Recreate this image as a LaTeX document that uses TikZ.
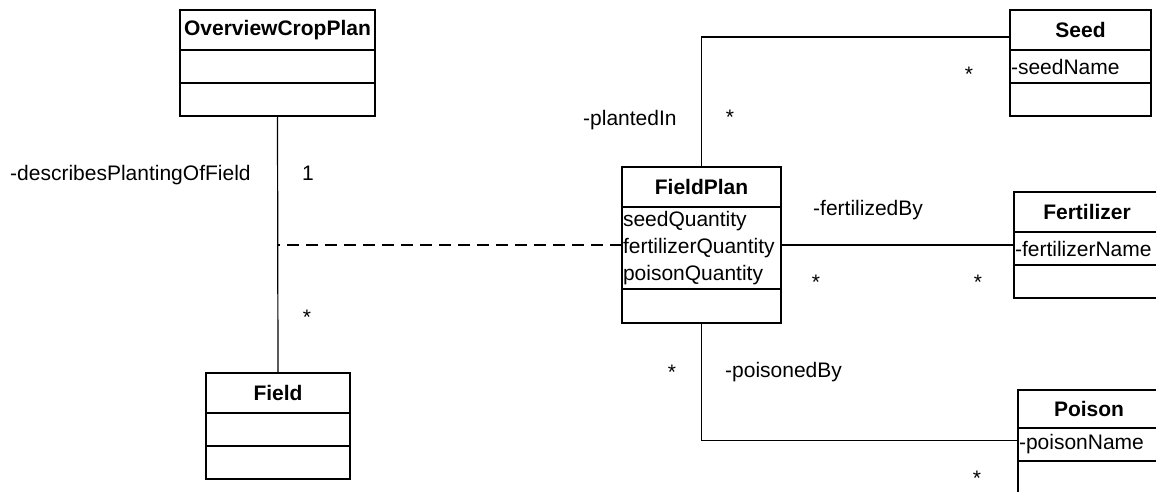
\documentclass[tikz,border=0pt]{standalone}
\usepackage{fontspec}
\setmainfont{Liberation Sans}
\begin{document}
\begin{tikzpicture}[x=1pt,y=-1pt,
    font=\fontsize{21}{27}\selectfont,
    classhead/.style={draw,line width=2pt,font=\fontsize{21}{27}\selectfont\bfseries,
        minimum height=40pt,inner sep=0pt,outer sep=0pt,anchor=north west},
    classpart/.style={draw,line width=2pt,minimum height=33pt,inner xsep=1pt,
        inner ysep=0pt,outer sep=0pt,anchor=north,align=left},
    assoc/.style={line width=1.2pt},
    lbl/.style={inner sep=0pt}]
    \useasboundingbox (0,0) rectangle (1156,491);
    \clip (0,0) rectangle (1156,491);
    % classes
    \node[classhead,minimum width=195pt] (ocp) at (180,10) {OverviewCropPlan};
    \node[classpart,text width=193pt] (ocpattr) at (ocp.south) {};
    \node[classpart,text width=193pt] (ocpops) at (ocpattr.south) {};
    \node[classhead,minimum width=144pt] (field) at (206,373) {Field};
    \node[classpart,text width=142pt] (fieldattr) at (field.south) {};
    \node[classpart,text width=142pt] (fieldops) at (fieldattr.south) {};
    \node[classhead,minimum width=159pt] (fp) at (622,167) {FieldPlan};
    \node[classpart,text width=157pt,minimum height=82pt] (fpattr) at (fp.south)
        {seedQuantity\\fertilizerQuantity\\poisonQuantity};
    \node[classpart,text width=157pt,minimum height=34pt] (fpops) at (fpattr.south) {};
    \node[classhead,minimum width=141pt] (seed) at (1010,10) {Seed};
    \node[classpart,text width=139pt] (seedattr) at (seed.south) {-seedName};
    \node[classpart,text width=139pt] (seedops) at (seedattr.south) {};
    \node[classhead,minimum width=146pt] (fert) at (1014,192) {Fertilizer};
    \node[classpart,text width=144pt] (fertattr) at (fert.south) {-fertilizerName};
    \node[classpart,text width=144pt] (fertops) at (fertattr.south) {};
    \node[classhead,minimum width=142pt,minimum height=38pt] (poison) at (1018,390) {Poison};
    \node[classpart,text width=140pt] (poisonattr) at (poison.south) {-poisonName};
    \node[classpart,text width=140pt] (poisonops) at (poisonattr.south) {};
    % associations
    \coordinate (fpmid) at ([yshift=3pt]fpattr.west);
    \coordinate (seedin) at ([yshift=-7pt]seed.west);
    \coordinate (fertin) at ([yshift=3.5pt]fertattr.west);
    \coordinate (poisonin) at ([yshift=4pt]poisonattr.west);
    \draw[assoc] (ocpops.south) -- (field.north);
    \draw[assoc,dash pattern=on 12pt off 7pt] (fpmid) -- (fpmid -| field.north);
    \draw[assoc] (fp.north) |- (seedin);
    \draw[assoc] (fpattr.east |- fertin) -- (fertin);
    \draw[assoc] (fpops.south) |- (poisonin);
    % role names and multiplicities
    \node[lbl,anchor=base west] (ldescr) at (10,180) {-describesPlantingOfField};
    \node[lbl,anchor=base] (mocp) at (308,180) {1};
    \node[lbl,anchor=base] (mfield) at (307,324) {*};
    \node[lbl,anchor=base west] (lplanted) at (583,125) {-plantedIn};
    \node[lbl,anchor=base] (mplanted) at (730,124) {*};
    \node[lbl,anchor=base] (mseed) at (969,81) {*};
    \node[lbl,anchor=base west] (lfert) at (813,215) {-fertilizedBy};
    \node[lbl,anchor=base] (mfpfert) at (816,289) {*};
    \node[lbl,anchor=base] (mfert) at (978,289) {*};
    \node[lbl,anchor=base] (mfppoison) at (672,379) {*};
    \node[lbl,anchor=base west] (lpoison) at (725,377) {-poisonedBy};
    \node[lbl,anchor=base] (mpoison) at (977,485) {*};
\end{tikzpicture}
\end{document}
